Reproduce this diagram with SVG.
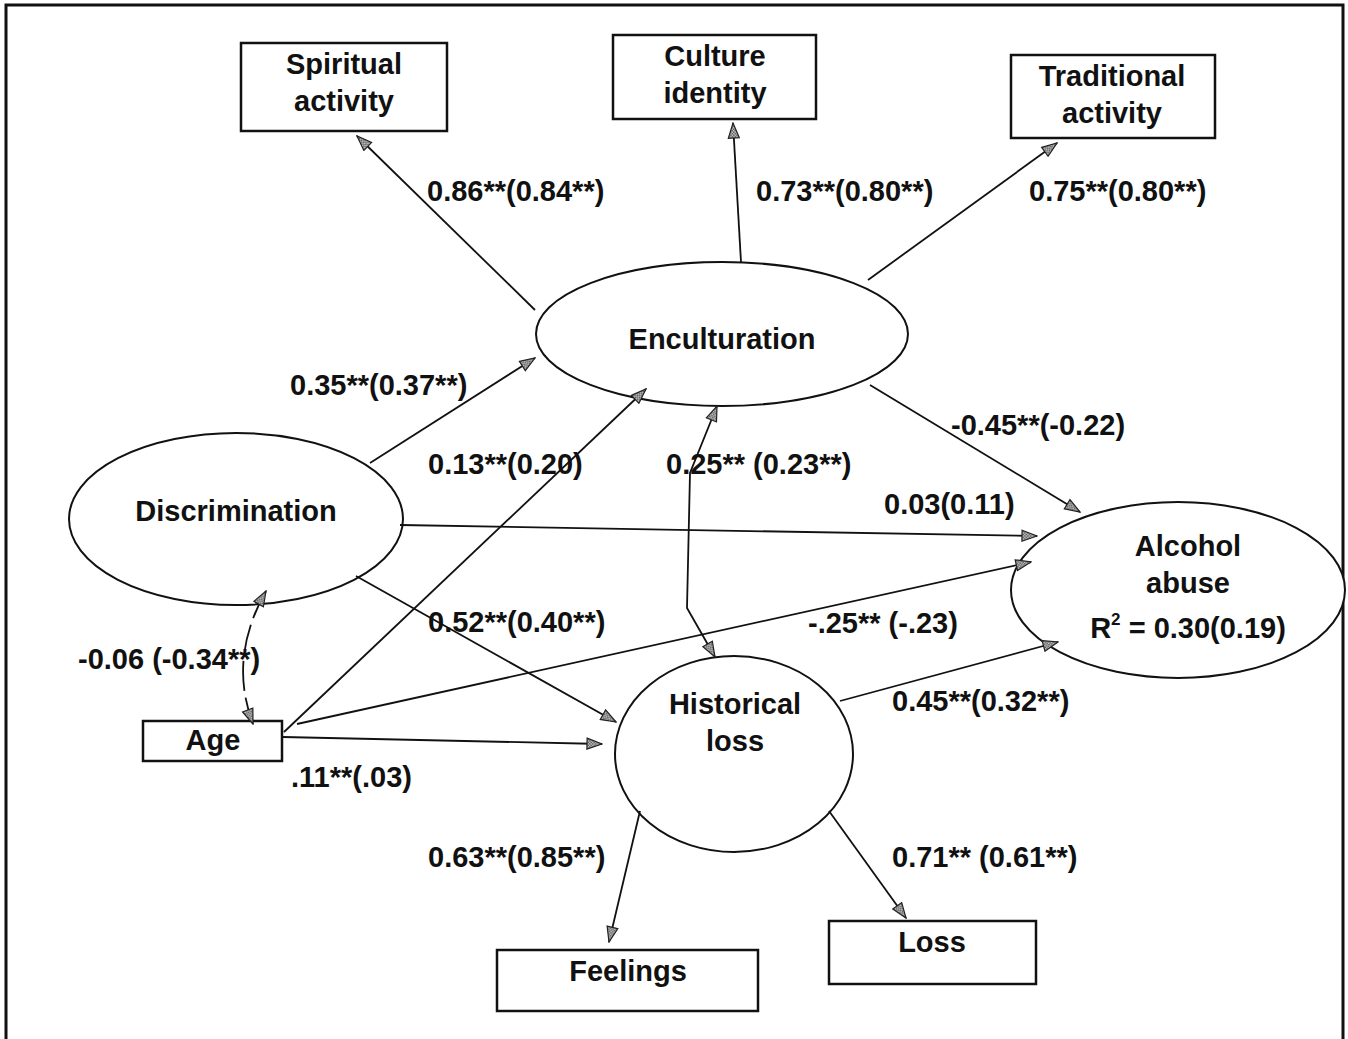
<svg xmlns="http://www.w3.org/2000/svg" width="1348" height="1039" viewBox="0 0 1348 1039">
<defs>
<pattern id="chk" width="3" height="3" patternUnits="userSpaceOnUse">
<rect width="3" height="3" fill="#ccc"/>
<rect width="1.5" height="1.5" fill="#555"/>
<rect x="1.5" y="1.5" width="1.5" height="1.5" fill="#555"/>
</pattern>
<marker id="ah" markerUnits="userSpaceOnUse" viewBox="0 0 17 13" markerWidth="17" markerHeight="13" refX="16" refY="6.5" orient="auto-start-reverse">
<path d="M1,1 L16,6.5 L1,12 z" fill="url(#chk)" stroke="#222" stroke-width="1.2"/>
</marker>
</defs>
<style>
.box{fill:#fff;stroke:#111;stroke-width:2.5}
.ell{fill:#fff;stroke:#111;stroke-width:2}
.t{font-family:"Liberation Sans",Arial,sans-serif;font-weight:bold;font-size:29px;fill:#111;text-anchor:middle}
.lbl{font-family:"Liberation Sans",Arial,sans-serif;font-weight:bold;font-size:29px;fill:#111}
.c{fill:none;stroke:#111;stroke-width:1.8;marker-end:url(#ah)}
.cb{fill:none;stroke:#111;stroke-width:1.8;marker-end:url(#ah);marker-start:url(#ah)}
</style>
<rect width="1348" height="1039" fill="#fff"/>
<path d="M6,1045 L6,5 L1343,5 L1343,1045" fill="none" stroke="#111" stroke-width="3"/>

<g id="spiritual"><rect class="box" x="241" y="43" width="206" height="88"/><text class="t" x="344" y="74">Spiritual</text><text class="t" x="344" y="111">activity</text></g>
<g id="culture"><rect class="box" x="613" y="35" width="203" height="84"/><text class="t" x="715" y="66">Culture</text><text class="t" x="715" y="103">identity</text></g>
<g id="traditional"><rect class="box" x="1011" y="55" width="204" height="83"/><text class="t" x="1112" y="86">Traditional</text><text class="t" x="1112" y="123">activity</text></g>
<g id="enculturation"><ellipse class="ell" cx="722" cy="334" rx="186" ry="72"/><text class="t" x="722" y="349">Enculturation</text></g>
<g id="discrimination"><ellipse class="ell" cx="236" cy="519" rx="167" ry="86"/><text class="t" x="236" y="521">Discrimination</text></g>
<g id="alcohol"><ellipse class="ell" cx="1178" cy="590" rx="167" ry="88"/><text class="t" x="1188" y="556">Alcohol</text><text class="t" x="1188" y="593">abuse</text><text class="t" x="1188" y="638">R<tspan font-size="17" dy="-13">2</tspan><tspan dy="13"> = 0.30(0.19)</tspan></text></g>
<g id="historical"><ellipse class="ell" cx="734" cy="754" rx="119" ry="98"/><text class="t" x="735" y="714">Historical</text><text class="t" x="735" y="751">loss</text></g>
<g id="age"><rect class="box" x="143" y="721" width="139" height="40"/><text class="t" x="213" y="750">Age</text></g>
<g id="feelings"><rect class="box" x="497" y="950" width="261" height="61"/><text class="t" x="628" y="981">Feelings</text></g>
<g id="loss"><rect class="box" x="829" y="921" width="207" height="63"/><text class="t" x="932" y="952">Loss</text></g>

<g id="connectors">
<line class="c" x1="535" y1="310" x2="357" y2="136"/>
<line class="c" x1="741" y1="262" x2="733" y2="123"/>
<line class="c" x1="868" y1="280" x2="1057" y2="143"/>
<line class="c" x1="370" y1="463" x2="535" y2="358"/>
<line class="c" x1="284" y1="732" x2="646" y2="389"/>
<polyline class="cb" points="717,406 690,473 687,608 715,657"/>
<line class="c" x1="870" y1="385" x2="1080" y2="512"/>
<line class="c" x1="400" y1="525" x2="1037" y2="536"/>
<line class="c" x1="297" y1="724" x2="1031" y2="562"/>
<line class="c" x1="356" y1="576" x2="616" y2="722"/>
<line class="c" x1="283" y1="737" x2="602" y2="744"/>
<line class="c" x1="840" y1="701" x2="1058" y2="642"/>
<path class="cb" d="M266,591 Q228,658 253,724" stroke-dasharray="30,7"/>
<line class="c" x1="640" y1="811" x2="609" y2="942"/>
<line class="c" x1="829" y1="811" x2="906" y2="918"/>
</g>

<g id="labels">
<text class="lbl" x="427" y="201">0.86**(0.84**)</text>
<text class="lbl" x="756" y="201">0.73**(0.80**)</text>
<text class="lbl" x="1029" y="201">0.75**(0.80**)</text>
<text class="lbl" x="290" y="395">0.35**(0.37**)</text>
<text class="lbl" x="428" y="474">0.13**(0.20)</text>
<text class="lbl" x="666" y="474">0.25**  (0.23**)</text>
<text class="lbl" x="951" y="435">-0.45**(-0.22)</text>
<text class="lbl" x="884" y="514">0.03(0.11)</text>
<text class="lbl" x="428" y="632">0.52**(0.40**)</text>
<text class="lbl" x="808" y="633">-.25**  (-.23)</text>
<text class="lbl" x="78" y="669">-0.06  (-0.34**)</text>
<text class="lbl" x="892" y="711">0.45**(0.32**)</text>
<text class="lbl" x="291" y="787">.11**(.03)</text>
<text class="lbl" x="428" y="867">0.63**(0.85**)</text>
<text class="lbl" x="892" y="867">0.71** (0.61**)</text>
</g>
</svg>
